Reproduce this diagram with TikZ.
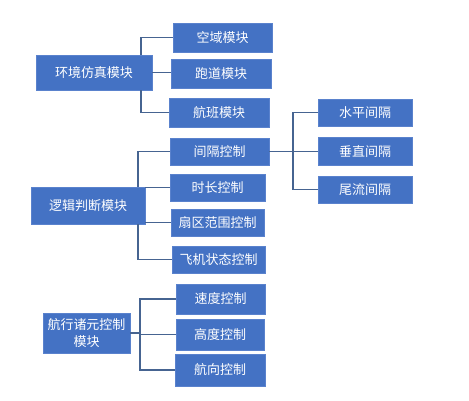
\documentclass[tikz,border=0pt]{standalone}
\usepackage{fontspec}
\setmainfont{Noto Sans CJK SC}
\definecolor{boxblue}{RGB}{68,114,196}
\definecolor{boxedge}{RGB}{90,130,205}
\definecolor{linecol}{RGB}{70,100,145}
\begin{document}
\begin{tikzpicture}[x=1pt,y=-1pt,
  box/.style={fill=boxblue,draw=boxedge,line width=0.6pt,text=white,inner sep=0pt,
    font=\fontsize{13}{17}\selectfont,align=center},
  conn/.style={draw=linecol,line width=1.3pt}]
\useasboundingbox[fill=white] (0,0) rectangle (469,400);
% boxes
\node[box,minimum width=116pt,minimum height=35pt] (env) at (94,72.5) {环境仿真模块};
\node[box,minimum width=99pt,minimum height=29pt] (kongyu) at (222.5,37.5) {空域模块};
\node[box,minimum width=100pt,minimum height=29pt] (paodao) at (221,73.5) {跑道模块};
\node[box,minimum width=100pt,minimum height=29pt] (hangban) at (219,112.5) {航班模块};
\node[box,minimum width=114pt,minimum height=37pt] (logic) at (88,205.5) {逻辑判断模块};
\node[box,minimum width=99pt,minimum height=27pt] (jiange) at (219.5,151.5) {间隔控制};
\node[box,minimum width=95pt,minimum height=27pt] (shichang) at (217.5,187.5) {时长控制};
\node[box,minimum width=93pt,minimum height=27pt] (shanqu) at (217.5,222.5) {扇区范围控制};
\node[box,minimum width=93pt,minimum height=27pt] (feiji) at (218.5,259.5) {飞机状态控制};
\node[box,minimum width=94pt,minimum height=27pt] (shuiping) at (365,112.5) {水平间隔};
\node[box,minimum width=94pt,minimum height=28pt] (chuizhi) at (365,151.5) {垂直间隔};
\node[box,minimum width=94pt,minimum height=27pt] (weiliu) at (365,189.5) {尾流间隔};
\node[box,minimum width=87pt,minimum height=40pt] (hangxing) at (86.5,333) {航行诸元控制\\模块};
\node[box,minimum width=89pt,minimum height=30pt] (sudu) at (220.5,299) {速度控制};
\node[box,minimum width=88pt,minimum height=31pt] (gaodu) at (220,334.5) {高度控制};
\node[box,minimum width=90pt,minimum height=32pt] (hangxiang) at (220,370) {航向控制};
% helper coordinates
\coordinate (e1) at (141,0);
\coordinate (l1) at (138,0);
\coordinate (j1) at (293,0);
\coordinate (h1) at (140,0);
% connectors
\draw[conn] (e1 |- env.north) |- (kongyu.west);
\draw[conn] (env.east) -- (env.east -| paodao.west);
\draw[conn] (e1 |- env.south) |- (hangban.west);
\draw[conn] (l1 |- logic.north) |- (jiange.west);
\draw[conn] (logic.east |- shichang.west) -- (shichang.west);
\draw[conn] (logic.east |- shanqu.west) -- (shanqu.west);
\draw[conn] (l1 |- logic.south) |- (feiji.west);
\draw[conn] (jiange.east) -- (jiange.east -| chuizhi.west);
\draw[conn] (shuiping.west) -- (j1 |- shuiping.west) -- (j1 |- weiliu.west) -- (weiliu.west);
\draw[conn] (hangxing.east) -- (h1 |- hangxing.east);
\draw[conn] (sudu.west) -- (h1 |- sudu.west) -- (h1 |- hangxiang.west) -- (hangxiang.west);
\draw[conn] (h1 |- gaodu.west) -- (gaodu.west);
\end{tikzpicture}
\end{document}
